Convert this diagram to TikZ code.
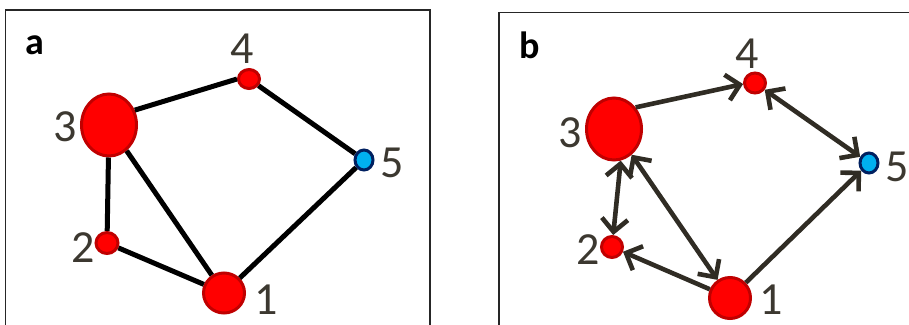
\documentclass[tikz,border=0pt]{standalone}
\usepackage{fontspec}
\setmainfont{Carlito}
\usetikzlibrary{shapes.geometric,arrows.meta}
\definecolor{nodered}{RGB}{255,0,0}
\definecolor{redline}{RGB}{192,0,0}
\definecolor{cyanfill}{RGB}{0,176,240}
\definecolor{navyline}{RGB}{0,32,96}
\definecolor{labelgray}{RGB}{60,56,48}
\definecolor{arrowdark}{RGB}{48,44,36}
\tikzset{
  rednode/.style={ellipse,draw=redline,fill=nodered,line width=3pt,inner sep=0pt},
  bluenode/.style={ellipse,draw=navyline,fill=cyanfill,line width=3pt,inner sep=0pt,minimum width=18pt,minimum height=20pt},
  numlabel/.style={inner sep=0pt,text=labelgray,font=\fontsize{46}{46}\selectfont},
  panellabel/.style={inner sep=0pt,font=\fontsize{38}{38}\selectfont\bfseries},
  frame/.style={draw=black!85,line width=1.6pt},
  undir/.style={line width=5pt,black},
  dir/.style={line width=4.6pt,arrowdark,-{Straight Barb[length=13pt,width=26pt]}},
  bidir/.style={line width=4.6pt,arrowdark,{Straight Barb[length=13pt,width=26pt]}-{Straight Barb[length=13pt,width=26pt]}}
}
\begin{document}
\begin{tikzpicture}[x=1pt,y=-1pt]
\useasboundingbox (0,0) rectangle (909,324);
\clip (0,0) rectangle (909,324);
% frames
\draw[frame] (5.5,340) -- (5.5,10) -- (430,10) -- (430,340);
\draw[frame] (499,340) -- (499,12.5) -- (920,12.5);
% panel a nodes
\node[rednode,minimum width=41pt,minimum height=40pt] (a1) at (224,293) {};
\node[rednode,minimum width=22pt,minimum height=21pt] (a2) at (107,243) {};
\node[rednode,minimum width=55pt,minimum height=62pt] (a3) at (109,125) {};
\node[rednode,minimum width=21pt,minimum height=19pt] (a4) at (249,79) {};
\node[bluenode] (a5) at (364,160) {};
% panel a labels
\node[panellabel] (la) at (34.7,45) {a};
\node[numlabel] (ta1) at (265.7,299.5) {1};
\node[numlabel] (ta2) at (83.3,247.5) {2};
\node[numlabel] (ta3) at (65,126.7) {3};
\node[numlabel] (ta4) at (242.5,48.3) {4};
\node[numlabel] (ta5) at (391.7,163.3) {5};
% panel a edges
\draw[undir] (a3.30) -- (a4.180);
\draw[undir] (a4) -- (a5);
\draw[undir] (a5) -- (a1);
\draw[undir] (a3) -- (a1);
\draw[undir] (a2) -- (a1);
\draw[undir] (a3) -- (a2);
% panel b nodes
\node[rednode,minimum width=41pt,minimum height=41pt] (b1) at (730,298) {};
\node[rednode,minimum width=21pt,minimum height=21pt] (b2) at (612,247) {};
\node[rednode,minimum width=55pt,minimum height=62pt] (b3) at (614,129) {};
\node[rednode,minimum width=21pt,minimum height=20pt] (b4) at (755,83) {};
\node[bluenode] (b5) at (869,163) {};
% panel b labels
\node[panellabel] (lb) at (529.2,45) {b};
\node[numlabel] (tb1) at (770.7,300) {1};
\node[numlabel] (tb2) at (588,250) {2};
\node[numlabel] (tb3) at (570,132.3) {3};
\node[numlabel] (tb4) at (747.3,53.3) {4};
\node[numlabel] (tb5) at (897.3,166.7) {5};
% panel b edges
\draw[dir] (b3.45) -- (b4.185);
\draw[bidir] (b4) -- (b5);
\draw[dir] (b1) -- (b5);
\draw[dir] (b1) -- (b2);
\draw[bidir] (b3) -- (b1);
\draw[bidir] (b3.-78) -- (b2);
\end{tikzpicture}
\end{document}
